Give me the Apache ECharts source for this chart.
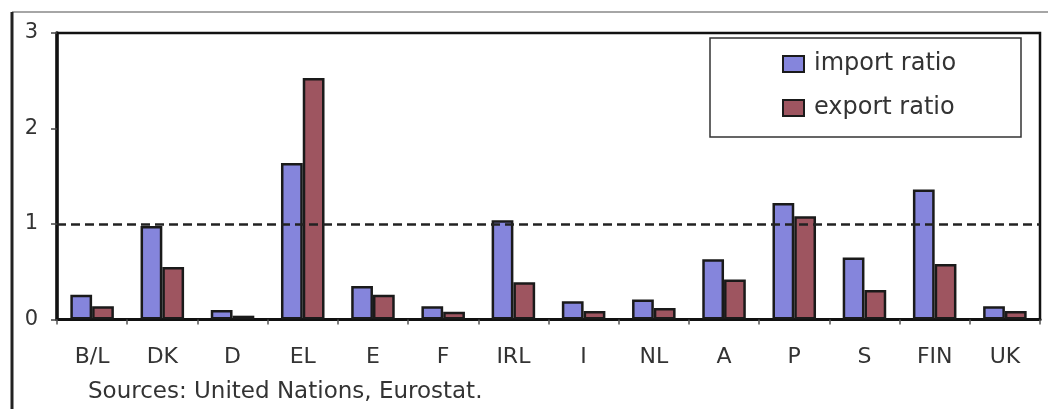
<!DOCTYPE html>
<html>
<head>
<meta charset="utf-8">
<script src="https://cdn.jsdelivr.net/npm/echarts@6/dist/echarts.min.js"></script>
<style>
html,body{margin:0;padding:0;background:#fff;}
#chart{width:1048px;height:409px;}
</style>
</head>
<body>
<div id="chart"></div>
<script>
const categories = ['B/L','DK','D','EL','E','F','IRL','I','NL','A','P','S','FIN','UK'];
const importRatio = [0.26, 0.98, 0.10, 1.64, 0.35, 0.14, 1.04, 0.19, 0.21, 0.63, 1.22, 0.65, 1.36, 0.14];
const exportRatio = [0.14, 0.55, 0.04, 2.53, 0.26, 0.08, 0.39, 0.09, 0.12, 0.42, 1.08, 0.31, 0.58, 0.09];
const yTicks = [0, 1, 2, 3];
const seriesNames = ['import ratio', 'export ratio'];
const sourceText = 'Sources: United Nations, Eurostat.';
const referenceLevel = 1;

const FONT = 'DejaVu Sans';
const chart = echarts.init(document.getElementById('chart'), null, {renderer: 'canvas'});

chart.setOption({
  animation: false,
  backgroundColor: '#ffffff',
  textStyle: {fontFamily: FONT},
  grid: {
    left: 57, right: 8, top: 33, bottom: 89.5,
    show: true, borderColor: '#111', borderWidth: 2.5, backgroundColor: 'transparent'
  },
  legend: {
    orient: 'vertical',
    left: 782, top: 52,
    padding: 0,
    icon: 'rect',
    itemWidth: 21, itemHeight: 16,
    itemGap: 20,
    data: seriesNames,
    textStyle: {fontFamily: FONT, fontSize: 24, color: '#333', lineHeight: 24, padding: [0, 0, 0, 5]}
  },
  xAxis: {
    type: 'category',
    data: categories,
    axisLine: {show: true, lineStyle: {color: '#111', width: 3}},
    axisTick: {show: true, length: 5, lineStyle: {color: '#555', width: 1.5}},
    axisLabel: {fontFamily: FONT, fontSize: 22, color: '#333', margin: 27, interval: 0},
    splitLine: {show: false}
  },
  yAxis: {
    type: 'value',
    min: yTicks[0], max: yTicks[yTicks.length - 1], interval: 1,
    axisLine: {show: true, lineStyle: {color: '#111', width: 3.5}},
    axisTick: {show: true, length: 6, lineStyle: {color: '#444', width: 1.5}},
    axisLabel: {fontFamily: FONT, fontSize: 21, color: '#333', margin: 19},
    splitLine: {show: false}
  },
  graphic: [
    {type: 'line', shape: {x1: 12, y1: 12, x2: 1048, y2: 12}, style: {stroke: '#888', lineWidth: 1.5}, silent: true},
    {type: 'line', shape: {x1: 12, y1: 12, x2: 12, y2: 409}, style: {stroke: '#222', lineWidth: 3}, silent: true},
    {type: 'rect', shape: {x: 710, y: 38, width: 311, height: 99}, style: {fill: '#fff', stroke: '#333', lineWidth: 1.5}, z: 1, silent: true},
    {type: 'text', left: 88, top: 381, style: {text: sourceText, fontFamily: FONT, fontSize: 23, fill: '#333'}, silent: true}
  ],
  series: [
    {
      name: seriesNames[0],
      type: 'bar',
      data: importRatio,
      barGap: '0%',
      barCategoryGap: '38%',
      itemStyle: {color: '#8585dc', borderColor: '#1a1a1a', borderWidth: 2.5},
      z: 3,
      markLine: {
        silent: true,
        symbol: ['none', 'none'],
        label: {show: false},
        lineStyle: {color: '#222', type: [9, 5], width: 2.5},
        data: [{yAxis: referenceLevel}],
        z: 10
      }
    },
    {
      name: seriesNames[1],
      type: 'bar',
      data: exportRatio,
      barGap: '0%',
      barCategoryGap: '38%',
      itemStyle: {color: '#9e5560', borderColor: '#1a1a1a', borderWidth: 2.5},
      z: 3
    }
  ]
});
</script>
</body>
</html>
